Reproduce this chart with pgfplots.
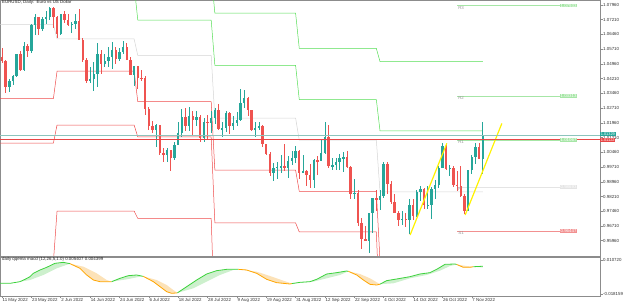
\documentclass[border=0pt]{standalone}
\usepackage{fontspec}
\setmainfont{Liberation Sans}
\usepackage{pgfplots}
\pgfplotsset{compat=1.18}
\usepackage{pgfplotstable}

\definecolor{bull}{HTML}{26A69A}
\definecolor{bear}{HTML}{EF5350}
\definecolor{rline}{HTML}{55DD55}
\definecolor{sline}{HTML}{EE4B4B}
\definecolor{pline}{HTML}{D4D4D4}
\definecolor{rnov}{HTML}{A6E6A6}
\definecolor{snov}{HTML}{F29090}
\definecolor{pnov}{HTML}{E4E4E4}
\definecolor{frame}{HTML}{8C8C8C}
\definecolor{mgreen}{HTML}{3CD23C}
\definecolor{morange}{HTML}{FFA500}
\definecolor{fgreen}{HTML}{CDF0CD}
\definecolor{forange}{HTML}{FCE2B8}
\definecolor{bidc}{HTML}{8CC4BC}
\definecolor{askc}{HTML}{E84646}

\newcommand{\lab}{\fontsize{4.4}{5}\selectfont}
\newcommand{\boxlab}{\fontsize{3.9}{4}\selectfont}

% bullish candles: index, open, high, low, close
\pgfplotstableread{
i o h l c
2 1.0379 1.0419 1.0354 1.0411
3 1.0411 1.0442 1.0389 1.0437
4 1.0437 1.0545 1.0429 1.0545
6 1.0465 1.0606 1.0461 1.0586
8 1.0562 1.0697 1.0550 1.0692
9 1.0692 1.0748 1.0642 1.0734
11 1.0675 1.0737 1.0662 1.0725
12 1.0725 1.0765 1.0700 1.0733
13 1.0733 1.0787 1.0720 1.0780
16 1.0648 1.0751 1.0642 1.0749
19 1.0696 1.0712 1.0653 1.0701
20 1.0701 1.0749 1.0676 1.0716
24 1.0408 1.0478 1.0397 1.0420
25 1.0420 1.0507 1.0359 1.0445
26 1.0445 1.0601 1.0380 1.0546
28 1.0494 1.0545 1.0478 1.0510
29 1.0510 1.0583 1.0482 1.0533
30 1.0533 1.0606 1.0470 1.0567
32 1.0522 1.0575 1.0510 1.0555
33 1.0555 1.0615 1.0546 1.0583
36 1.0442 1.0485 1.0382 1.0484
42 1.0161 1.0188 1.0071 1.0185
45 1.0034 1.0069 0.9998 1.0060
47 1.0019 1.0097 1.0006 1.0082
48 1.0082 1.0200 1.0082 1.0144
49 1.0144 1.0269 1.0124 1.0225
51 1.0181 1.0278 1.0153 1.0230
53 1.0211 1.0258 1.0180 1.0224
55 1.0119 1.0222 1.0096 1.0200
57 1.0196 1.0255 1.0145 1.0223
58 1.0223 1.0274 1.0189 1.0260
60 1.0164 1.0199 1.0123 1.0169
61 1.0169 1.0254 1.0148 1.0245
63 1.0181 1.0229 1.0159 1.0196
64 1.0196 1.0249 1.0179 1.0212
65 1.0212 1.0368 1.0204 1.0298
66 1.0298 1.0364 1.0274 1.0322
69 1.0161 1.0202 1.0122 1.0171
70 1.0171 1.0202 1.0160 1.0180
74 0.9943 0.9992 0.9901 0.9968
75 0.9968 0.9998 0.9910 0.9970
76 0.9970 1.0034 0.9940 0.9975
78 0.9964 1.0028 0.9915 1.0002
79 1.0002 1.0054 0.9983 1.0016
80 1.0016 1.0079 0.9990 1.0054
82 0.9943 1.0033 0.9941 0.9953
85 0.9903 1.0010 0.9865 1.0007
87 1.0000 1.0113 1.0000 1.0041
88 1.0041 1.0198 1.0036 1.0122
90 0.9974 1.0019 0.9955 0.9979
91 0.9979 1.0017 0.9957 0.9999
92 0.9999 1.0037 0.9955 1.0016
93 1.0016 1.0050 0.9945 1.0023
96 0.9836 0.9908 0.9807 0.9838
100 0.9594 0.9738 0.9535 0.9737
101 0.9737 0.9815 0.9635 0.9815
103 0.9802 0.9852 0.9751 0.9825
104 0.9825 0.9999 0.9814 0.9985
109 0.9703 0.9747 0.9678 0.9708
111 0.9703 0.9807 0.9632 0.9778
113 0.9723 0.9852 0.9718 0.9843
114 0.9843 0.9876 0.9797 0.9857
116 0.9776 0.9873 0.9756 0.9778
117 0.9778 0.9870 0.9705 0.9859
118 0.9859 0.9904 0.9809 0.9879
119 0.9879 0.9976 0.9862 0.9965
120 0.9965 1.0094 0.9965 1.0079
122 0.9963 0.9984 0.9925 0.9965
127 0.9747 0.9958 0.9746 0.9958
128 0.9958 1.0033 0.9935 1.0020
129 1.0020 1.0094 0.9988 1.0074
131 1.0013 1.0200 0.9936 1.0133
}\bulltab

% bearish candles
\pgfplotstableread{
i o h l c
0 1.0530 1.0576 1.0501 1.0512
1 1.0512 1.0514 1.0350 1.0379
5 1.0545 1.0564 1.0461 1.0465
7 1.0586 1.0598 1.0532 1.0562
10 1.0734 1.0737 1.0641 1.0675
14 1.0780 1.0786 1.0680 1.0733
15 1.0733 1.0740 1.0627 1.0648
17 1.0749 1.0764 1.0703 1.0718
18 1.0718 1.0750 1.0690 1.0696
21 1.0716 1.0774 1.0616 1.0618
22 1.0618 1.0630 1.0507 1.0518
23 1.0518 1.0525 1.0397 1.0408
27 1.0546 1.0566 1.0445 1.0494
31 1.0567 1.0580 1.0494 1.0522
34 1.0583 1.0605 1.0515 1.0518
35 1.0518 1.0529 1.0442 1.0442
37 1.0484 1.0486 1.0366 1.0425
38 1.0425 1.0464 1.0411 1.0423
39 1.0423 1.0437 1.0235 1.0266
40 1.0266 1.0277 1.0162 1.0181
41 1.0181 1.0203 1.0143 1.0161
43 1.0185 1.0187 1.0031 1.0040
44 1.0040 1.0068 0.9999 1.0034
46 1.0060 1.0060 0.9952 1.0019
50 1.0225 1.0274 1.0154 1.0181
52 1.0230 1.0254 1.0130 1.0211
54 1.0224 1.0236 1.0097 1.0119
56 1.0200 1.0234 1.0113 1.0196
59 1.0260 1.0294 1.0161 1.0164
62 1.0245 1.0250 1.0141 1.0181
67 1.0322 1.0330 1.0232 1.0259
68 1.0259 1.0263 1.0155 1.0161
71 1.0180 1.0185 1.0072 1.0088
72 1.0088 1.0089 1.0032 1.0038
73 1.0038 1.0050 0.9926 0.9943
77 0.9975 1.0090 0.9951 0.9964
81 1.0054 1.0056 0.9910 0.9943
83 0.9953 0.9955 0.9877 0.9930
84 0.9930 0.9987 0.9864 0.9903
86 1.0007 1.0029 0.9929 1.0000
89 1.0122 1.0187 0.9966 0.9974
94 1.0023 1.0051 0.9968 0.9972
95 0.9972 0.9976 0.9810 0.9836
97 0.9838 0.9853 0.9669 0.9688
98 0.9688 0.9710 0.9553 0.9606
99 0.9606 0.9671 0.9594 0.9594
102 0.9815 0.9853 0.9749 0.9802
105 0.9985 0.9999 0.9836 0.9884
106 0.9884 0.9900 0.9781 0.9791
107 0.9791 0.9835 0.9739 0.9739
108 0.9739 0.9749 0.9670 0.9703
110 0.9708 0.9736 0.9668 0.9703
112 0.9778 0.9809 0.9701 0.9723
115 0.9857 0.9863 0.9758 0.9776
121 1.0079 1.0089 0.9955 0.9963
123 0.9965 0.9976 0.9871 0.9882
124 0.9882 0.9953 0.9850 0.9877
125 0.9877 0.9976 0.9816 0.9822
126 0.9822 0.9832 0.9730 0.9747
130 1.0074 1.0094 1.0017 1.0013
}\beartab

\begin{document}
\begin{tikzpicture}
\useasboundingbox (0pt,0pt) rectangle (625pt,-307pt);

% ---------------- main price panel ----------------
\begin{axis}[
  at={(0pt,-256pt)}, anchor=south west,
  scale only axis, width=600pt, height=255.5pt,
  xmin=-0.545, xmax=162.943, ymin=0.95181, ymax=1.08189,
  axis line style={draw=frame, line width=0.6pt},
  xtick=\empty,
  ytick={0.9596,0.9671,0.9746,0.9821,0.9896,0.9971,1.0046,1.0121,1.0196,1.0271,1.0346,1.0421,1.0496,1.0571,1.0646,1.0721,1.0796},
  yticklabels={0.95960,0.96710,0.97460,0.98210,0.98960,0.99710,1.00460,1.01210,1.01960,1.02710,1.03460,1.04210,1.04960,1.05710,1.06460,1.07210,1.07960},
  ytick pos=right, yticklabel pos=right,
  scaled y ticks=false,
  tick align=outside, major tick length=2.5pt,
  tick style={draw=frame, line width=0.5pt},
  yticklabel style={font=\lab, text=black!80, anchor=west, inner sep=0pt, xshift=0.5pt},
]
% monthly pivot levels (previous month high/low/close)
\addplot[pline, line width=0.5pt] coordinates {(-1,1.06973)(14,1.06973)(15,1.06230)(36,1.06230)(37,1.05390)(57,1.05390)(58,1.02203)(80,1.02203)(81,1.01077)(102,1.01077)(103,0.98450)(131,0.98450)};
\addplot[rline, line width=0.5pt] coordinates {(-1,1.09237)(14,1.09237)(15,1.0897)(36,1.0897)(37,1.0719)(57,1.0719)(58,1.04887)(80,1.04887)(81,1.03143)(102,1.03143)(103,1.0155)(131,1.0155)};
\addplot[rline, line width=0.5pt] coordinates {(-1,1.13023)(14,1.13023)(15,1.1061)(36,1.1061)(37,1.0954)(57,1.0954)(58,1.07543)(80,1.07543)(81,1.05747)(102,1.05747)(103,1.0508)(131,1.0508)};
\addplot[rline, line width=0.5pt] coordinates {(-1,1.19073)(14,1.19073)(15,1.1499)(36,1.1499)(37,1.1369)(57,1.1369)(58,1.12883)(80,1.12883)(81,1.10417)(102,1.10417)(103,1.1171)(131,1.1171)};
\addplot[sline, line width=0.5pt] coordinates {(-1,1.03187)(14,1.03187)(15,1.0459)(36,1.0459)(37,1.0304)(57,1.0304)(58,0.99547)(80,0.99547)(81,0.98473)(102,0.98473)(103,0.9492)(131,0.9492)};
\addplot[sline, line width=0.5pt] coordinates {(-1,1.00923)(14,1.00923)(15,1.0185)(36,1.0185)(37,1.0124)(57,1.0124)(58,0.96863)(80,0.96863)(81,0.96407)(102,0.96407)(103,0.9182)(131,0.9182)};
\addplot[sline, line width=0.5pt] coordinates {(-1,0.94873)(14,0.94873)(15,0.9747)(36,0.9747)(37,0.9709)(57,0.9709)(58,0.91523)(80,0.91523)(81,0.91737)(102,0.91737)(103,0.8519)(131,0.8519)};
% current month levels
\addplot[rnov, line width=0.6pt] coordinates {(124,1.07933)(156.7,1.07933)};
\addplot[rnov, line width=0.6pt] coordinates {(124,1.03313)(156.7,1.03313)};
\addplot[rnov, line width=0.6pt] coordinates {(124,1.01067)(156.7,1.01067)};
\addplot[pnov, line width=0.6pt] coordinates {(124,0.98693)(156.7,0.98693)};
\addplot[snov, line width=0.6pt] coordinates {(124,0.96447)(156.7,0.96447)};
% candles: wicks
\addplot[draw=none, mark=none, error bars/.cd, y dir=both, y explicit, error mark=none,
  error bar style={draw=bull, line width=0.7pt}]
  table[x=i, y expr={(\thisrow{h}+\thisrow{l})/2}, y error expr={(\thisrow{h}-\thisrow{l})/2}] {\bulltab};
\addplot[draw=none, mark=none, error bars/.cd, y dir=both, y explicit, error mark=none,
  error bar style={draw=bear, line width=0.7pt}]
  table[x=i, y expr={(\thisrow{h}+\thisrow{l})/2}, y error expr={(\thisrow{h}-\thisrow{l})/2}] {\beartab};
% candles: bodies
\addplot[draw=none, mark=none, error bars/.cd, y dir=both, y explicit, error mark=none,
  error bar style={draw=bull, line width=2.4pt}]
  table[x=i, y expr={(\thisrow{o}+\thisrow{c})/2}, y error expr={max(abs(\thisrow{c}-\thisrow{o})/2,0.00012)}] {\bulltab};
\addplot[draw=none, mark=none, error bars/.cd, y dir=both, y explicit, error mark=none,
  error bar style={draw=bear, line width=2.4pt}]
  table[x=i, y expr={(\thisrow{o}+\thisrow{c})/2}, y error expr={max(abs(\thisrow{c}-\thisrow{o})/2,0.00012)}] {\beartab};
% trend lines
\addplot[yellow, line width=1.2pt] coordinates {(111.2,0.96250)(121.2,1.00915)};
\addplot[yellow, line width=1.2pt] coordinates {(126.2,0.97267)(136.2,1.01932)};
% price lines
\addplot[bidc, line width=0.5pt] coordinates {(-0.545,1.01329)(162.943,1.01329)};
\addplot[askc, line width=0.5pt] coordinates {(-0.545,1.01122)(162.943,1.01122)};
% level names
\node[font=\lab, text=black!40, anchor=north west, inner sep=0.3pt] at (axis cs:124.2,1.07933) {R3};
\node[font=\lab, text=black!40, anchor=north west, inner sep=0.3pt] at (axis cs:124.2,1.03313) {R2};
\node[font=\lab, text=black!40, anchor=north west, inner sep=0.3pt] at (axis cs:124.2,1.01067) {R1};
\node[font=\lab, text=black!40, anchor=north west, inner sep=0.3pt] at (axis cs:124.2,0.98693) {P};
\node[font=\lab, text=black!40, anchor=north west, inner sep=0.3pt] at (axis cs:124.2,0.96447) {S1};
% level value boxes
\node[font=\lab, text=white, fill=rnov, anchor=east, inner sep=0.4pt] at (axis cs:156.7,1.07933) {1.07933};
\node[font=\lab, text=white, fill=rnov, anchor=east, inner sep=0.4pt] at (axis cs:156.7,1.03313) {1.03313};
\node[font=\lab, text=white, fill=rnov, anchor=east, inner sep=0.4pt] at (axis cs:156.7,1.01067) {1.01067};
\node[font=\lab, text=white, fill=pnov, anchor=east, inner sep=0.4pt] at (axis cs:156.7,0.98693) {0.98693};
\node[font=\lab, text=white, fill=snov, anchor=east, inner sep=0.4pt] at (axis cs:156.7,0.96447) {0.96447};
\node[font=\lab, text=black!85, anchor=north west, inner sep=0pt] at (rel axis cs:0,1) {\hspace{2pt}\raisebox{-1.5pt}{EURUSD, Daily:\ \ Euro vs US Dollar}};
\coordinate (bidpos) at (axis cs:162.943,1.01329);
\coordinate (askpos) at (axis cs:162.943,1.01122);
\end{axis}
\node[font=\boxlab, text=white, fill=bull, anchor=west, inner xsep=0.6pt, inner ysep=0pt, minimum height=3.9pt] at ([yshift=1.1pt]bidpos) {1.01329};
\node[font=\boxlab, text=white, fill=askc, anchor=west, inner xsep=0.6pt, inner ysep=0pt, minimum height=3.9pt] at ([yshift=-0.9pt]askpos) {1.01122};

% ---------------- indicator panel ----------------
\begin{axis}[
  at={(0pt,-296pt)}, anchor=south west,
  scale only axis, width=600pt, height=39pt,
  xmin=-0.545, xmax=162.943, ymin=-0.019858, ymax=0.013268,
  axis line style={draw=frame, line width=0.6pt},
  xtick={0,8,16,24,32,40,48,56,64,72,80,88,96,104,112,120,128},
  xticklabels={11 May 2022,23 May 2022,2 Jun 2022,14 Jun 2022,24 Jun 2022,6 Jul 2022,18 Jul 2022,28 Jul 2022,9 Aug 2022,19 Aug 2022,31 Aug 2022,12 Sep 2022,22 Sep 2022,4 Oct 2022,14 Oct 2022,26 Oct 2022,7 Nov 2022},
  xtick pos=bottom, xticklabel pos=bottom,
  ytick={-0.018159,0.010720},
  yticklabels={-0.018159,0.010720},
  ytick pos=right, yticklabel pos=right,
  scaled y ticks=false, scaled x ticks=false,
  tick align=outside, major tick length=2.5pt,
  tick style={draw=frame, line width=0.5pt},
  yticklabel style={font=\lab, text=black!80, anchor=west, inner sep=0pt, xshift=0.5pt},
  xticklabel style={font=\lab, text=black!80, anchor=north west, inner sep=0pt, xshift=0.5pt},
]
% fills between main and signal
\addplot[fill=fgreen, draw=none] coordinates {(-0.54,-0.00910)(2.18,-0.00910)(4.90,-0.00768)(6.27,-0.00570)(7.63,-0.00344)(8.54,-0.00060)(9.45,0.00081)(10.35,0.00223)(12.17,0.00449)(14.44,0.00789)(16.7,0.00874)(18.53,0.00760)(14.90,0.00364)(11.26,-0.00202)(7.63,-0.00627)(2.18,-0.00910)};
\addplot[fill=forange, draw=none] coordinates {(18.53,0.00760)(21.25,0.00364)(23.07,-0.00202)(24.89,-0.00627)(26.70,-0.00768)(29.88,-0.00768)(28.52,-0.00627)(25.79,-0.00060)(22.16,0.00506)};
\addplot[fill=fgreen, draw=none] coordinates {(29.88,-0.00768)(32.15,-0.00485)(34.42,-0.00259)(36.69,-0.00202)(38.51,-0.00320)(37.60,-0.00344)(33.97,-0.00570)};
\addplot[fill=forange, draw=none] coordinates {(38.51,-0.00320)(41.24,-0.00768)(43.05,-0.01193)(44.87,-0.01618)(46.23,-0.01759)(47.8,-0.01720)(46.68,-0.01476)(44.87,-0.01052)(42.14,-0.00627)};
\addplot[fill=fgreen, draw=none] coordinates {(47.8,-0.01720)(50.32,-0.01193)(53.04,-0.00627)(55.77,-0.00117)(58.49,0.00166)(61.22,0.00279)(64.4,0.00279)(63.03,0.00223)(59.40,-0.00202)(55.77,-0.00768)(52.13,-0.01335)};
\addplot[fill=forange, draw=none] coordinates {(64.4,0.00279)(66.67,0.00223)(69.39,-0.00060)(72.12,-0.00570)(74.84,-0.00853)(78.47,-0.00967)(79.0,-0.00930)(76.66,-0.00683)(73.03,-0.00287)(69.39,0.00081)};
\addplot[fill=fgreen, draw=none] coordinates {(79.0,-0.00930)(81.2,-0.00825)(83.92,-0.00768)(85.74,-0.00570)(88.47,-0.00117)(91.19,-0.00004)(93.91,0.00138)(94.37,0.00110)(92.10,-0.00202)(88.47,-0.00485)(84.83,-0.00768)};
\addplot[fill=forange, draw=none] coordinates {(94.37,0.00110)(96.64,-0.00202)(98.46,-0.00627)(100.27,-0.00995)(102.09,-0.01052)(103.0,-0.00980)(100.27,-0.00485)(97.55,-0.00117)};
\addplot[fill=fgreen, draw=none] coordinates {(103.0,-0.00980)(104.81,-0.00683)(107.54,-0.00542)(111.17,-0.00344)(113.90,-0.00117)(116.62,-0.00004)(118.44,0.00279)(120.71,0.00704)(123.43,0.00732)(123.89,0.00690)(122.07,0.00562)(119.35,0.00166)(115.71,-0.00202)(111.17,-0.00485)(106.63,-0.00910)};
\addplot[fill=forange, draw=none] coordinates {(123.89,0.00690)(125.70,0.00449)(127.52,0.00449)(128.43,0.00500)(126.61,0.00562)};
\addplot[fill=fgreen, draw=none] coordinates {(128.43,0.00500)(131,0.00541)(131,0.00440)};
% main line, coloured by side of signal
\addplot[mgreen, line width=0.8pt] coordinates {(-0.54,-0.00910)(2.18,-0.00910)(4.90,-0.00768)(6.27,-0.00570)(7.63,-0.00344)(8.54,-0.00060)(9.45,0.00081)(10.35,0.00223)(12.17,0.00449)(14.44,0.00789)(16.7,0.00874)(18.53,0.00760)};
\addplot[morange, line width=0.8pt] coordinates {(18.53,0.00760)(21.25,0.00364)(23.07,-0.00202)(24.89,-0.00627)(26.70,-0.00768)(29.88,-0.00768)};
\addplot[mgreen, line width=0.8pt] coordinates {(29.88,-0.00768)(32.15,-0.00485)(34.42,-0.00259)(36.69,-0.00202)(38.51,-0.00320)};
\addplot[morange, line width=0.8pt] coordinates {(38.51,-0.00320)(41.24,-0.00768)(43.05,-0.01193)(44.87,-0.01618)(46.23,-0.01759)(47.8,-0.01720)};
\addplot[mgreen, line width=0.8pt] coordinates {(47.8,-0.01720)(50.32,-0.01193)(53.04,-0.00627)(55.77,-0.00117)(58.49,0.00166)(61.22,0.00279)(64.4,0.00279)};
\addplot[morange, line width=0.8pt] coordinates {(64.4,0.00279)(66.67,0.00223)(69.39,-0.00060)(72.12,-0.00570)(74.84,-0.00853)(78.47,-0.00967)(79.0,-0.00930)};
\addplot[mgreen, line width=0.8pt] coordinates {(79.0,-0.00930)(81.2,-0.00825)(83.92,-0.00768)(85.74,-0.00570)(88.47,-0.00117)(91.19,-0.00004)(93.91,0.00138)(94.37,0.00110)};
\addplot[morange, line width=0.8pt] coordinates {(94.37,0.00110)(96.64,-0.00202)(98.46,-0.00627)(100.27,-0.00995)(102.09,-0.01052)(103.0,-0.00980)};
\addplot[mgreen, line width=0.8pt] coordinates {(103.0,-0.00980)(104.81,-0.00683)(107.54,-0.00542)(111.17,-0.00344)(113.90,-0.00117)(116.62,-0.00004)(118.44,0.00279)(120.71,0.00704)(123.43,0.00732)(123.89,0.00690)};
\addplot[morange, line width=0.8pt] coordinates {(123.89,0.00690)(125.70,0.00449)(127.52,0.00449)(128.43,0.00500)};
\addplot[mgreen, line width=0.8pt] coordinates {(128.43,0.00500)(131,0.00541)};
\node[font=\lab, text=black!85, anchor=north west, inner sep=0pt] at (rel axis cs:0,1) {\hspace{2pt}\raisebox{-2pt}{daily qqema macd (12,26,5,1.0) 0.005407 0.004399}};
\end{axis}
\end{tikzpicture}
\end{document}
